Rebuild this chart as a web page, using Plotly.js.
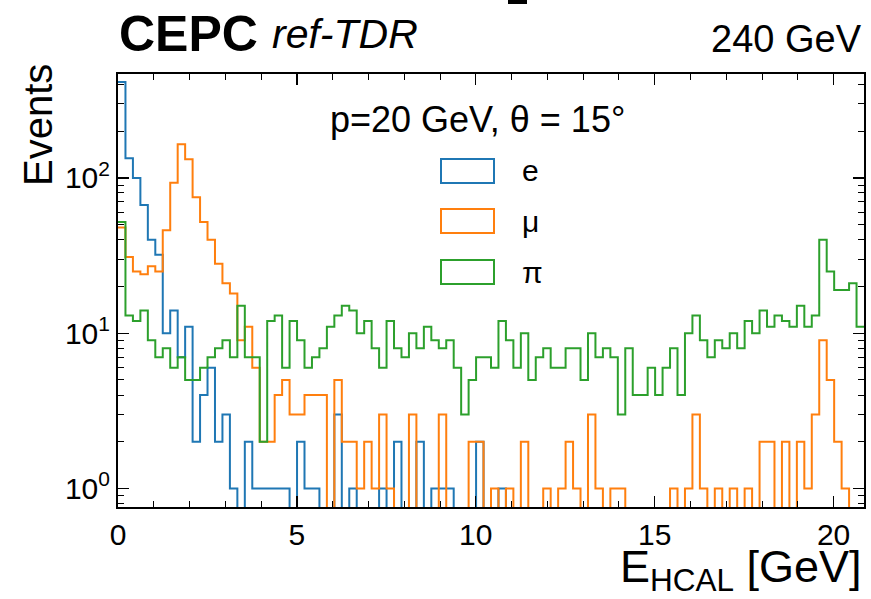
<!DOCTYPE html>
<html><head><meta charset="utf-8">
<script src="https://cdn.plot.ly/plotly-3.0.1.min.js"></script>
<style>html,body{margin:0;padding:0;background:#fff}#chart{width:871px;height:599px}</style>
</head><body><div id="chart"></div>
<script>
// ---- data ----
const seriesNames = ['e', 'μ', 'π'];
const seriesColors = ['#1f77b4', '#ff7f0e', '#2ca02c'];
const binStart = 0;          // GeV
const binWidth = 0.2085;     // GeV
const countsE = [
  414,134,100,67,40,32,10,14,7,11,
  2,4,6,2,3,1,0,2,1,1,
  1,1,1,0,2,1,1,0,0,3,
  0,1,0,0,0,1,0,2,0,0,
  2,0,1,1,1,0,0,0,2,0,
  0,1,0,0,0,0,0,0,0,0,
  0,0,0,0,0,0,0,0,0,0,
  0,0,0,0,0,0,0,0,0,0,
  0,0,0,0,0,0,0,0,0,0,
  0,0,0,0,0,0,0,0,0,0
];
const countsMu = [
  48,31,25,24,27,25,46,93,165,132,
  75,52,40,28,21,18,9,11,6,2,
  2,4,5,3,3,4,4,4,0,5,
  2,2,1,2,1,3,1,0,0,3,
  0,0,0,3,0,0,0,2,2,0,
  1,0,1,0,2,0,0,1,0,1,
  2,1,0,3,1,0,1,1,0,0,
  0,0,0,0,1,0,1,3,1,0,
  1,0,1,0,1,0,2,2,0,2,
  0,2,1,3,9,5,2,1,0,0
];
const countsPi = [
  52,13,12,14,9,7,8,6,7,5,
  5,6,7,8,9,7,15,7,7,2,
  12,13,6,12,9,6,7,8,11,13,
  15,14,10,12,8,6,12,8,7,10,
  8,11,9,8,9,6,3,5,7,7,
  6,12,9,6,10,5,7,8,6,6,
  8,8,5,10,7,8,7,3,8,4,
  4,6,4,6,8,4,10,13,9,7,
  9,8,10,8,12,10,14,11,13,12,
  11,15,11,13,40,25,19,19,21,11
];
const xTickVals = [0, 5, 10, 15, 20];
const yTickVals = [1, 10, 100];
const yTickText = ['10<sup>0</sup>', '10<sup>1</sup>', '10<sup>2</sup>'];
const annotText = 'p=20 GeV, θ = 15°';
const xTitle = 'E<sub>HCAL</sub> [GeV]';
const yTitle = 'Events';

// ---- build step traces ----
const allCounts = [countsE, countsMu, countsPi];
const nBins = countsE.length;
const xMax = binStart + nBins * binWidth;
const FLOOR = 0.01; // empty bins drop below the visible log range
function stepTrace(counts, i) {
  const x = [], y = [];
  for (let k = 0; k <= counts.length; k++) {
    x.push(binStart + k * binWidth);
    const c = counts[Math.min(k, counts.length - 1)];
    y.push(c > 0 ? c : FLOOR);
  }
  return {type: 'scatter', mode: 'lines', x, y, name: seriesNames[i],
    line: {shape: 'hv', color: seriesColors[i], width: 2}, showlegend: false,
    hoverinfo: 'skip'};
}
const traces = allCounts.map(stepTrace);

// ---- layout ----
const L = 118, R = 864, T = 74, B = 507, W = 871, H = 599;
const px = X => (X - L) / (R - L);
const py = Y => (B - Y) / (B - T);
const FONT = 'Liberation Sans, Arial, Helvetica, sans-serif';

const minorY = [];
[0.1, 1, 10, 100].forEach(d => { for (let m = 2; m <= 9; m++) minorY.push(m * d); });

const shapes = [], annotations = [];
const legTop = [159, 209, 260];
seriesNames.forEach((n, i) => {
  shapes.push({type: 'rect', xref: 'paper', yref: 'paper',
    x0: px(441), x1: px(494), y0: py(legTop[i] + 24), y1: py(legTop[i]),
    line: {color: seriesColors[i], width: 2}, fillcolor: 'rgba(0,0,0,0)'});
  annotations.push({xref: 'paper', yref: 'paper', x: px(520), y: py(legTop[i] + 12),
    xanchor: 'left', yanchor: 'middle', text: n, showarrow: false,
    font: {family: FONT, size: 30, color: '#000'}});
});
// small dark mark at the top edge of the reference image
shapes.push({type: 'rect', xref: 'paper', yref: 'paper', x0: px(508), x1: px(527),
  y0: py(4), y1: py(-2), line: {width: 0}, fillcolor: '#000'});
annotations.push(
  {xref: 'paper', yref: 'paper', x: px(117), y: py(64), xanchor: 'left', yanchor: 'bottom',
   text: '<b>CEPC</b>', showarrow: false, font: {family: FONT, size: 50, color: '#000'}},
  {xref: 'paper', yref: 'paper', x: px(270), y: py(59), xanchor: 'left', yanchor: 'bottom',
   text: '<i>ref-TDR</i>', showarrow: false, font: {family: FONT, size: 41, color: '#000'}},
  {xref: 'paper', yref: 'paper', x: px(864), y: py(62), xanchor: 'right', yanchor: 'bottom',
   text: '240 GeV', showarrow: false, font: {family: FONT, size: 38, color: '#000'}},
  {xref: 'paper', yref: 'paper', x: px(477), y: py(120), xanchor: 'center', yanchor: 'middle',
   text: annotText, showarrow: false, font: {family: FONT, size: 36, color: '#000'}},
  {xref: 'paper', yref: 'paper', x: px(864), y: py(600), xanchor: 'right', yanchor: 'bottom',
   text: xTitle, showarrow: false, font: {family: FONT, size: 45, color: '#000'}},
  {xref: 'paper', yref: 'paper', x: px(38), y: py(62), xanchor: 'center', yanchor: 'top',
   textangle: -90, text: yTitle, showarrow: false, font: {family: FONT, size: 40, color: '#000'}}
);

const layout = {
  width: W, height: H,
  margin: {l: L, r: W - R, t: T, b: H - B, pad: 0},
  paper_bgcolor: '#fff', plot_bgcolor: '#fff',
  showlegend: false,
  font: {family: FONT, size: 30, color: '#000'},
  xaxis: {range: [binStart, xMax], tickmode: 'array', tickvals: xTickVals,
    ticks: 'inside', ticklen: 11, tickwidth: 1.3, tickcolor: '#000',
    showline: true, linewidth: 2, linecolor: '#000', mirror: 'allticks',
    showgrid: false, zeroline: false, tickfont: {family: FONT, size: 30},
    minor: {dtick: 1, ticks: 'inside', ticklen: 6, tickwidth: 1, tickcolor: '#000', showgrid: false}},
  yaxis: {type: 'log', range: [Math.log10(0.76), Math.log10(467)],
    tickmode: 'array', tickvals: yTickVals, ticktext: yTickText,
    ticks: 'inside', ticklen: 11, tickwidth: 1.3, tickcolor: '#000',
    showline: true, linewidth: 2, linecolor: '#000', mirror: 'allticks',
    showgrid: false, zeroline: false, tickfont: {family: FONT, size: 30},
    minor: {tickmode: 'array', tickvals: minorY, ticks: 'inside', ticklen: 6, tickwidth: 1,
      tickcolor: '#000', showgrid: false}},
  shapes, annotations
};
Plotly.newPlot('chart', traces, layout, {staticPlot: true, displayModeBar: false});
</script>
</body></html>
